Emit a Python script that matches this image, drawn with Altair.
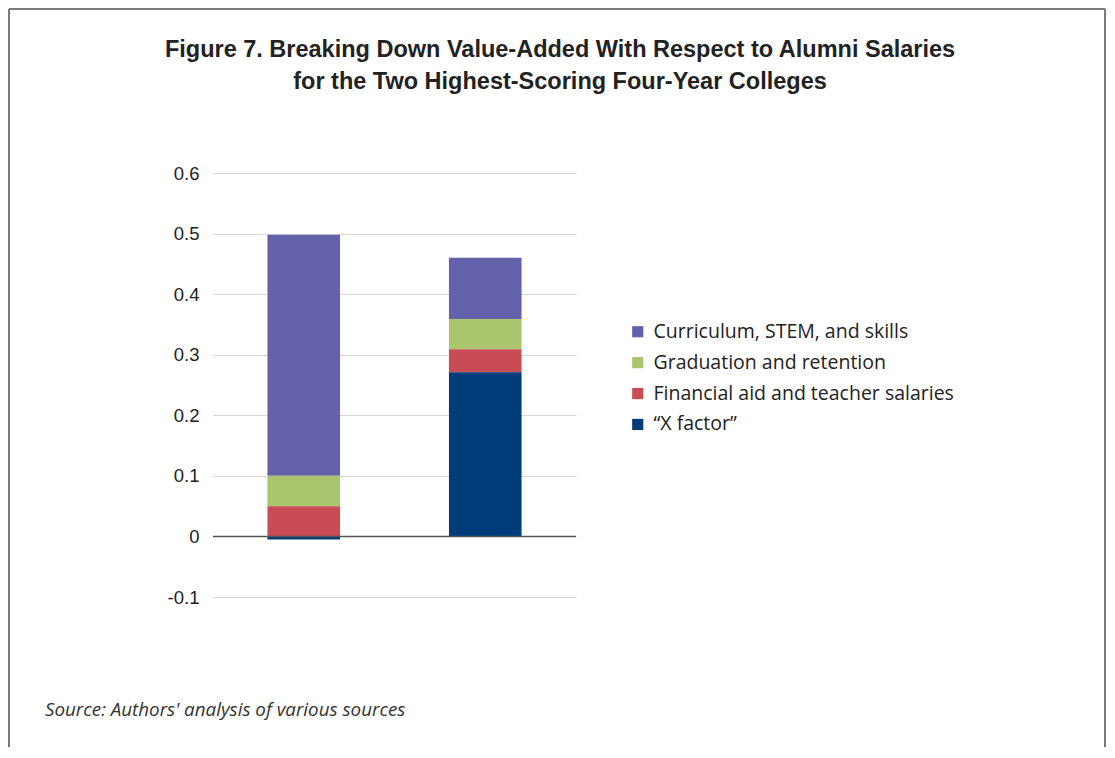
import altair as alt
import pandas as pd

colleges = ["College A", "College B"]
components = ["Curriculum, STEM, and skills", "Graduation and retention",
              "Financial aid and teacher salaries", "\u201cX factor\u201d"]
colors = ["#6361aa", "#a9c66d", "#c94b55", "#003c79"]
stack_rank = [3, 2, 1, 0]  # X factor at the base
values_a = [0.398, 0.050, 0.050, -0.005]
values_b = [0.101, 0.050, 0.038, 0.271]
y_ticks = [-0.1, 0, 0.1, 0.2, 0.3, 0.4, 0.5, 0.6]
title_lines = ["Figure 7. Breaking Down Value-Added With Respect to Alumni Salaries",
               "for the Two Highest-Scoring Four-Year Colleges"]
source_text = "Source: Authors' analysis of various sources"

rows = []
for college, vals in zip(colleges, [values_a, values_b]):
    for comp, v, r in zip(components, vals, stack_rank):
        rows.append({"college": college, "component": comp, "value": v, "rank": r})
df = pd.DataFrame(rows)
one = pd.DataFrame({"k": [0]})

W, H = 363, 424

yscale = alt.Scale(domain=[-0.1, 0.6], nice=False, zero=False)

bars = alt.Chart(df).mark_bar().encode(
    x=alt.X("college:N", axis=None, sort=colleges,
            scale=alt.Scale(paddingInner=0.6, paddingOuter=0.3)),
    y=alt.Y("value:Q", stack="zero", scale=yscale,
            axis=alt.Axis(values=y_ticks, title=None, domain=False, ticks=False,
                          labelExpr="'' + datum.value", labelPadding=14,
                          labelFontSize=18.5, labelFont="Liberation Sans",
                          labelColor="#222222", gridColor="#d6d6d6", gridWidth=1)),
    color=alt.Color("component:N",
                    scale=alt.Scale(domain=components, range=colors),
                    legend=alt.Legend(title=None, orient="none", legendX=415, legendY=149,
                                      symbolType="square", symbolSize=125,
                                      symbolStrokeWidth=0, labelFontSize=19.5,
                                      labelFont="Open Sans", labelColor="#222222",
                                      labelOffset=6, rowPadding=9.9, labelLimit=400)),
    order=alt.Order("rank:Q", sort="ascending"),
)

zero = alt.Chart(one).mark_rule(color="#555555", strokeWidth=1.5).encode(
    y=alt.datum(0, scale=yscale)
)

t1 = alt.Chart(one).mark_text(text=title_lines[0], font="Liberation Sans", fontWeight="bold",
                              fontSize=23.5, color="#222222", align="center",
                              baseline="middle").encode(x=alt.value(347), y=alt.value(-123))
t2 = alt.Chart(one).mark_text(text=title_lines[1], font="Liberation Sans", fontWeight="bold",
                              fontSize=23.5, color="#222222", align="center",
                              baseline="middle").encode(x=alt.value(347), y=alt.value(-91))
src = alt.Chart(one).mark_text(text=source_text, font="Open Sans", fontStyle="italic",
                               fontSize=18.8, color="#333333", align="left",
                               baseline="middle").encode(x=alt.value(-168), y=alt.value(537))

frame_left = alt.Chart(one).mark_rule(color="#7a7a7a", strokeWidth=2).encode(
    x=alt.value(-204), y=alt.value(-164), y2=alt.value(574))
frame_top = alt.Chart(one).mark_rule(color="#7a7a7a", strokeWidth=2).encode(
    x=alt.value(-204), x2=alt.value(892), y=alt.value(-164))
frame_right = alt.Chart(one).mark_rule(color="#7a7a7a", strokeWidth=2).encode(
    x=alt.value(892), y=alt.value(-164), y2=alt.value(574))

chart = alt.layer(bars, zero, t1, t2, src, frame_left, frame_top, frame_right).properties(
    width=W, height=H, padding={"left": 0, "top": 0, "right": 0, "bottom": 0}
).configure(background="white").configure_view(stroke=None)

chart.save("out.html", embed_options={"renderer": "svg", "actions": False})
